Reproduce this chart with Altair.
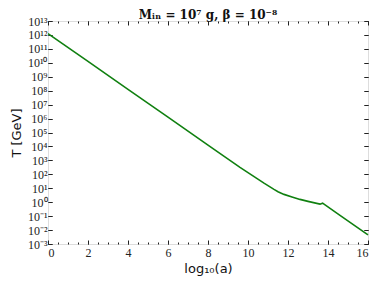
import altair as alt
import pandas as pd

# log10(a) and log10(T / GeV)
log_a = [0, 2, 4, 6, 8, 9.6, 10.4, 10.8, 11.1, 11.3, 11.5, 11.8, 12.2, 12.6, 13.0, 13.6, 13.73, 14.6, 16]
log_T = [12.1, 10.1, 8.1, 6.1, 4.1, 2.5, 1.75, 1.37, 1.1, 0.92, 0.75, 0.56, 0.38, 0.2, 0.06, -0.14, -0.07, -0.94, -2.34]

x_major = [0, 2, 4, 6, 8, 10, 12, 14, 16]
x_minor = [0, 0.5, 1, 1.5, 2, 2.5, 3, 3.5, 4, 4.5, 5, 5.5, 6, 6.5, 7, 7.5, 8, 8.5,
           9, 9.5, 10, 10.5, 11, 11.5, 12, 12.5, 13, 13.5, 14, 14.5, 15, 15.5, 16]
y_exps = [-3, -2, -1, 0, 1, 2, 3, 4, 5, 6, 7, 8, 9, 10, 11, 12, 13]
y_major = [10.0 ** e for e in y_exps]

df = pd.DataFrame({"loga": log_a, "logT": log_T})

W, H = 320, 223
E = "round(log(datum.value)/LN10)"
SUP = "['⁰','¹','²','³','⁴','⁵','⁶','⁷','⁸','⁹']"
y_label_expr = (f"'10' + ({E} < 0 ? '⁻' : '') + (abs({E}) >= 10 ? '¹' : '') + "
                f"{SUP}[abs({E}) % 10]")

AX = dict(domain=False, grid=False, tickColor="#222", tickWidth=1, labelColor="#222",
          labelFont="Liberation Serif", labelFontSize=12, titleFont="DejaVu Sans",
          titleFontSize=13, titleColor="#111", titleFontWeight="normal")

xscale = alt.Scale(domain=[0, 16], nice=False, zero=False)
yscale = alt.Scale(type="log", domain=[1e-3, 1e13], nice=False)

base = alt.Chart(df).transform_calculate(T="pow(10, datum.logT)")

main = base.mark_line(color="#108010", strokeWidth=1.6).encode(
    x=alt.X("loga:Q", scale=xscale,
            axis=alt.Axis(orient="bottom", values=x_major, format="d", tickSize=4, offset=-4,
                          labelPadding=3, title="log₁₀(a)", titlePadding=4, **AX)),
    y=alt.Y("T:Q", scale=yscale,
            axis=alt.Axis(orient="left", values=y_major, tickSize=4, offset=-4, labelPadding=1,
                          labelExpr=y_label_expr, labelOverlap=False, labelBaseline="middle",
                          title="T [GeV]", titlePadding=4, **AX)),
)

l2 = base.mark_line(opacity=0).encode(
    x=alt.X("loga:Q", scale=xscale,
            axis=alt.Axis(orient="bottom", values=x_minor, tickSize=2, offset=-2,
                          labels=False, title=None, **AX)),
    y=alt.Y("T:Q", scale=yscale,
            axis=alt.Axis(orient="right", values=y_major, tickSize=4, offset=-4,
                          labels=False, title=None, **AX)),
)

l3 = base.mark_line(opacity=0).encode(
    x=alt.X("loga:Q", scale=xscale,
            axis=alt.Axis(orient="top", values=x_major, tickSize=4, offset=-4,
                          labels=False, title=None, **AX)),
    y=alt.Y("T:Q", scale=yscale,
            axis=alt.Axis(orient="left", values=y_major, tickSize=4, offset=-4,
                          labels=False, title=None, **AX)),
)

l4 = base.mark_line(opacity=0).encode(
    x=alt.X("loga:Q", scale=xscale,
            axis=alt.Axis(orient="top", values=x_minor, tickSize=2, offset=-2,
                          labels=False, title=None, **AX)),
    y=alt.Y("T:Q", scale=yscale,
            axis=alt.Axis(orient="right", values=y_major, tickSize=4, offset=-4,
                          labels=False, title=None, **AX)),
)

chart = alt.layer(main, l2, l3, l4).resolve_axis(x="independent", y="independent").properties(
    width=W, height=H,
    title=alt.TitleParams("Mᵢₙ = 10⁷ g,  β = 10⁻⁸", font="DejaVu Serif", fontSize=12,
                          fontWeight="bold", color="#111", offset=0, dy=7),
    autosize=alt.AutoSizeParams(type="none"),
    padding={"left": 40, "top": 13, "right": 4, "bottom": 40},
).configure_view(stroke="#333", strokeWidth=1.2).configure(background="white")

chart.save("out.html", embed_options={"renderer": "svg", "actions": False})
